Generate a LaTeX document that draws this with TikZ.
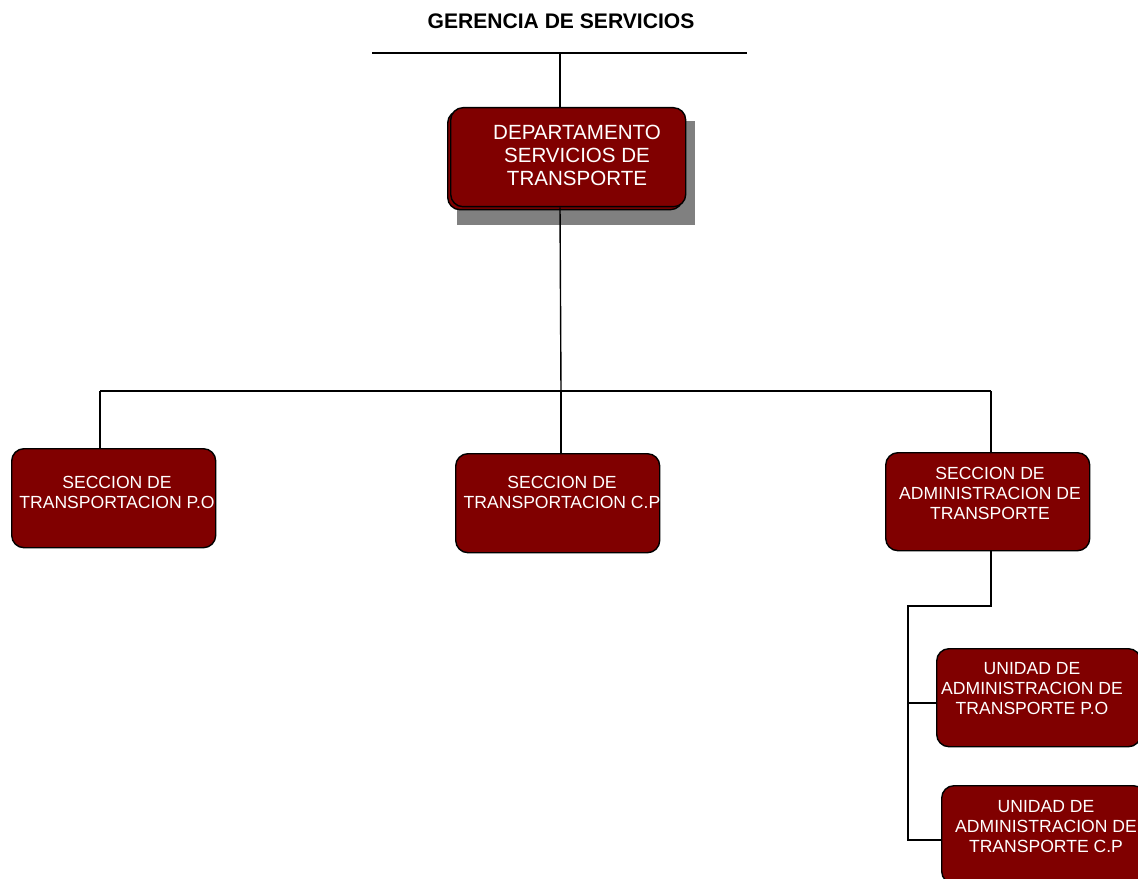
\documentclass[tikz,border=0pt]{standalone}
\usepackage{fontspec}
\setmainfont{Liberation Sans}
\definecolor{boxred}{HTML}{800000}
\definecolor{shadowgray}{HTML}{808080}
\begin{document}
\begin{tikzpicture}[x=0.02cm,y=-0.02cm,
  unitbox/.style={draw=black,line width=0.8pt,fill=boxred,rounded corners=7pt,
    inner sep=0pt,anchor=north west},
  boxtext/.style={text=white,align=center,font=\fontsize{10}{11.4}\selectfont,inner sep=0pt,anchor=north},
  bigtext/.style={text=white,align=center,font=\fontsize{11.7}{13}\selectfont,inner sep=0pt,anchor=north},
  link/.style={draw=black,line width=0.8pt}]
\useasboundingbox (0,0) rectangle (1138,878);

% title and top line
\node[font=\bfseries\fontsize{12}{14}\selectfont,anchor=center] (title) at (561,21) {GERENCIA DE SERVICIOS};
\coordinate (topL) at (372,53);
\coordinate (topR) at (747,53);
\coordinate (topM) at (560,53);
\draw[link] (topL) -- (topR);

% department box with shadow and back outline
\fill[shadowgray] (457,121) rectangle (695,225);
\node[unitbox,minimum width=235*0.02cm,minimum height=99*0.02cm] (deptback) at (447,110) {};
\node[unitbox,minimum width=235*0.02cm,minimum height=99*0.02cm] (dept) at (450,107) {};
\node[bigtext] (depttxt) at (577,125) {DEPARTAMENTO\\SERVICIOS DE\\TRANSPORTE};

% sections
\node[unitbox,minimum width=204*0.02cm,minimum height=99*0.02cm] (spo) at (11,448) {};
\node[boxtext] (spotxt) at (117,476) {SECCION DE\\TRANSPORTACION P.O};
\node[unitbox,minimum width=204*0.02cm,minimum height=99*0.02cm] (scp) at (455,453) {};
\node[boxtext] (scptxt) at (562,476) {SECCION DE\\TRANSPORTACION C.P};
\node[unitbox,minimum width=204*0.02cm,minimum height=98*0.02cm] (sadm) at (885,452) {};
\node[boxtext] (sadmtxt) at (990,467) {SECCION DE\\ADMINISTRACION DE\\TRANSPORTE};

% units
\node[unitbox,minimum width=204*0.02cm,minimum height=98*0.02cm] (upo) at (936,648) {};
\node[boxtext] (upotxt) at (1032,662) {UNIDAD DE\\ADMINISTRACION DE\\TRANSPORTE P.O};
\node[unitbox,minimum width=204*0.02cm,minimum height=98*0.02cm] (ucp) at (941,785) {};
\node[boxtext] (ucptxt) at (1046,800) {UNIDAD DE\\ADMINISTRACION DE\\TRANSPORTE C.P};

% connectors
\coordinate (busL) at (100,391);
\coordinate (busM) at (561,391);
\coordinate (busR) at (991,391);
\coordinate (admJ) at (991,606);
\coordinate (admL) at (908,606);
\coordinate (admA) at (908,703);
\coordinate (admB) at (908,840);
\draw[link] (topM) -- (dept.north -| topM);
\draw[link] (dept.south -| topM) -- (busM);
\draw[link] (busL) -- (busR);
\draw[link] (busL) -- (spo.north -| busL);
\draw[link] (busM) -- (scp.north -| busM);
\draw[link] (busR) -- (sadm.north -| busR);
\draw[link] (sadm.south -| admJ) -- (admJ) -- (admL) -- (admB) -- (ucp.west |- admB);
\draw[link] (admA) -- (upo.west |- admA);
\end{tikzpicture}
\end{document}
